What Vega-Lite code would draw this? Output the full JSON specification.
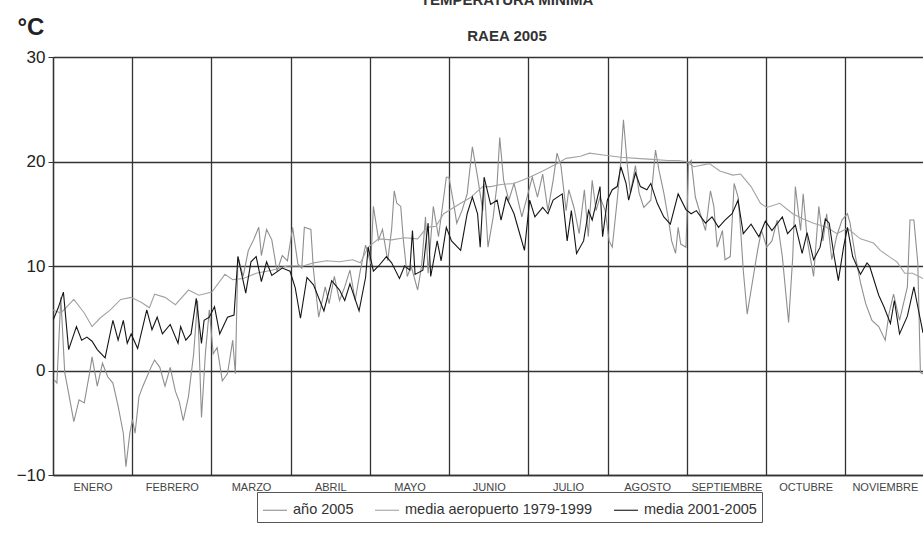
{
  "$schema": "https://vega.github.io/schema/vega-lite/v6.json",
  "width": 870,
  "height": 418,
  "autosize": {"type": "none"},
  "padding": {"left": 53, "top": 57, "right": 0, "bottom": 70},
  "background": "white",
  "config": {
    "view": {"stroke": null},
    "font": "Liberation Sans"
  },
  "title": {
    "text": ["TEMPERATURA MÍNIMA", "RAEA 2005"],
    "fontSize": 15,
    "font": "Liberation Sans",
    "fontWeight": "bold",
    "color": "#333333",
    "lineHeight": 36,
    "baseline": "bottom",
    "anchor": "middle",
    "dx": 19,
    "offset": -44
  },
  "datasets": {
    "y2005": [
      {"dia":0.5,"t":-0.9},{"dia":1.5,"t":-1.2},{"dia":3,"t":7.0},{"dia":4.5,"t":-0.2},{"dia":5.5,"t":-1.5},{"dia":8,"t":-4.9},{"dia":10,"t":-2.8},{"dia":12,"t":-3.1},{"dia":14,"t":-0.3},{"dia":15,"t":1.3},{"dia":17,"t":-1.5},{"dia":19,"t":0.7},{"dia":21,"t":-0.6},{"dia":23,"t":-1.2},{"dia":25,"t":-3.4},{"dia":27,"t":-6.0},{"dia":28,"t":-9.2},{"dia":29.5,"t":-6.0},{"dia":30.5,"t":-4.7},{"dia":31.5,"t":-6.0},{"dia":33,"t":-2.5},{"dia":34.5,"t":-1.5},{"dia":37.6,"t":0.3},{"dia":39,"t":1.0},{"dia":41,"t":0.3},{"dia":43,"t":-1.5},{"dia":45,"t":0.3},{"dia":47,"t":-2.0},{"dia":48.5,"t":-3.0},{"dia":50,"t":-4.8},{"dia":52,"t":-2.5},{"dia":54,"t":1.6},{"dia":55.5,"t":6.7},{"dia":57,"t":-4.5},{"dia":58.5,"t":1.6},{"dia":60,"t":5.8},{"dia":61.5,"t":1.6},{"dia":63,"t":2.2},{"dia":65,"t":-1.0},{"dia":67,"t":-0.3},{"dia":69,"t":2.9},{"dia":70,"t":-0.3},{"dia":71,"t":10.9},{"dia":73,"t":9.0},{"dia":75,"t":11.5},{"dia":77,"t":12.5},{"dia":79,"t":13.7},{"dia":80,"t":11.0},{"dia":82,"t":13.5},{"dia":84,"t":12.5},{"dia":86,"t":9.5},{"dia":88,"t":11.0},{"dia":90,"t":10.5},{"dia":92,"t":13.7},{"dia":94,"t":10.2},{"dia":95.5,"t":9.8},{"dia":96.5,"t":13.7},{"dia":99,"t":13.5},{"dia":100,"t":9.6},{"dia":102,"t":5.1},{"dia":104.5,"t":8.0},{"dia":106,"t":6.4},{"dia":108,"t":9.0},{"dia":110,"t":6.7},{"dia":112,"t":8.0},{"dia":114,"t":9.6},{"dia":116,"t":6.7},{"dia":118,"t":9.6},{"dia":120,"t":12.0},{"dia":122,"t":10.2},{"dia":123,"t":15.7},{"dia":125,"t":12.5},{"dia":126.5,"t":13.5},{"dia":128.5,"t":10.5},{"dia":130,"t":13.5},{"dia":131,"t":17.2},{"dia":132,"t":16.0},{"dia":133.5,"t":15.7},{"dia":134.5,"t":12.5},{"dia":136,"t":9.0},{"dia":137.5,"t":10.0},{"dia":140,"t":7.7},{"dia":141.5,"t":10.0},{"dia":143,"t":14.7},{"dia":144,"t":9.3},{"dia":146,"t":15.7},{"dia":148,"t":12.8},{"dia":151,"t":18.5},{"dia":152,"t":18.5},{"dia":154,"t":15.7},{"dia":155,"t":14.1},{"dia":157,"t":15.3},{"dia":159,"t":16.9},{"dia":161,"t":21.4},{"dia":163,"t":18.5},{"dia":165,"t":15.3},{"dia":165.5,"t":17.9},{"dia":167,"t":11.8},{"dia":169,"t":14.7},{"dia":170.5,"t":17.9},{"dia":171.5,"t":22.3},{"dia":173,"t":18.2},{"dia":175,"t":16.3},{"dia":177,"t":17.9},{"dia":180,"t":14.7},{"dia":182,"t":16.6},{"dia":184,"t":18.5},{"dia":186,"t":16.6},{"dia":188,"t":18.8},{"dia":190,"t":15.3},{"dia":192,"t":18.2},{"dia":193.5,"t":20.8},{"dia":195,"t":19.6},{"dia":197,"t":15.3},{"dia":198,"t":17.3},{"dia":200,"t":15.6},{"dia":202,"t":13.1},{"dia":204,"t":17.3},{"dia":205.5,"t":12.8},{"dia":207,"t":18.2},{"dia":208.5,"t":15.3},{"dia":210,"t":16.6},{"dia":212,"t":15.3},{"dia":213.5,"t":12.4},{"dia":214.7,"t":11.8},{"dia":216.6,"t":16.3},{"dia":218,"t":20.1},{"dia":219,"t":24.0},{"dia":220.5,"t":19.6},{"dia":221.7,"t":17.0},{"dia":223.6,"t":19.6},{"dia":225,"t":17.0},{"dia":226.8,"t":15.6},{"dia":229.5,"t":16.3},{"dia":231.3,"t":21.1},{"dia":232.7,"t":19.1},{"dia":234.5,"t":17.0},{"dia":236.3,"t":14.4},{"dia":237.5,"t":12.4},{"dia":239,"t":11.2},{"dia":240,"t":13.7},{"dia":241,"t":12.1},{"dia":243,"t":11.8},{"dia":244,"t":19.8},{"dia":245,"t":20.1},{"dia":246.6,"t":16.6},{"dia":248.5,"t":15.0},{"dia":250.5,"t":13.4},{"dia":252.4,"t":17.2},{"dia":253.7,"t":15.7},{"dia":255,"t":11.8},{"dia":257,"t":13.4},{"dia":258,"t":10.6},{"dia":260,"t":10.9},{"dia":261.5,"t":17.9},{"dia":263,"t":16.6},{"dia":264,"t":13.4},{"dia":265,"t":9.6},{"dia":266.5,"t":5.4},{"dia":268.4,"t":8.3},{"dia":270.5,"t":11.5},{"dia":272,"t":13.4},{"dia":274,"t":11.8},{"dia":276,"t":12.4},{"dia":278,"t":14.4},{"dia":280,"t":10.9},{"dia":282.4,"t":4.6},{"dia":284,"t":10.9},{"dia":285,"t":17.6},{"dia":287,"t":13.4},{"dia":288,"t":16.9},{"dia":289.6,"t":12.4},{"dia":292,"t":9.0},{"dia":294,"t":15.7},{"dia":295.6,"t":12.4},{"dia":297,"t":15.0},{"dia":299,"t":10.6},{"dia":300.8,"t":12.8},{"dia":302.9,"t":14.4},{"dia":305,"t":15.0},{"dia":306,"t":14.1},{"dia":308,"t":11.0},{"dia":310,"t":8.4},{"dia":312,"t":6.4},{"dia":314.4,"t":4.8},{"dia":317,"t":4.2},{"dia":319.5,"t":2.9},{"dia":321,"t":5.5},{"dia":322.7,"t":7.3},{"dia":325,"t":4.8},{"dia":328,"t":8.0},{"dia":329,"t":14.4},{"dia":330.5,"t":14.4},{"dia":332,"t":10.3},{"dia":333,"t":-0.2},{"dia":334,"t":-0.3}
    ],
    "aero": [
      {"dia":0,"t":5.8},{"dia":3,"t":5.5},{"dia":8,"t":6.8},{"dia":12,"t":5.5},{"dia":15,"t":4.2},{"dia":18,"t":5.0},{"dia":22,"t":5.8},{"dia":26,"t":6.8},{"dia":30,"t":7.0},{"dia":34,"t":6.5},{"dia":37,"t":6.0},{"dia":39,"t":7.3},{"dia":43,"t":7.0},{"dia":47,"t":6.3},{"dia":52,"t":7.7},{"dia":56,"t":7.2},{"dia":61,"t":7.5},{"dia":66,"t":9.2},{"dia":69,"t":8.7},{"dia":73,"t":8.8},{"dia":78,"t":9.3},{"dia":84,"t":9.6},{"dia":90,"t":10.0},{"dia":96,"t":10.0},{"dia":100,"t":10.3},{"dia":105,"t":10.5},{"dia":110,"t":10.4},{"dia":115,"t":10.6},{"dia":118,"t":10.3},{"dia":121,"t":11.8},{"dia":125,"t":12.6},{"dia":130,"t":12.5},{"dia":135,"t":12.7},{"dia":140,"t":12.6},{"dia":143.6,"t":13.7},{"dia":147,"t":13.8},{"dia":150,"t":15.0},{"dia":156.5,"t":16.0},{"dia":160,"t":16.5},{"dia":165,"t":17.6},{"dia":168,"t":17.6},{"dia":172,"t":17.8},{"dia":177,"t":17.9},{"dia":183,"t":18.5},{"dia":188,"t":19.1},{"dia":193.6,"t":19.8},{"dia":197,"t":20.3},{"dia":202.5,"t":20.5},{"dia":206,"t":20.8},{"dia":212,"t":20.6},{"dia":218,"t":20.4},{"dia":224,"t":20.3},{"dia":230,"t":20.2},{"dia":236,"t":20.1},{"dia":240,"t":20.1},{"dia":243,"t":20.0},{"dia":246,"t":19.5},{"dia":252,"t":19.8},{"dia":256,"t":19.1},{"dia":261,"t":18.7},{"dia":264,"t":18.8},{"dia":268,"t":17.6},{"dia":271.6,"t":16.0},{"dia":274,"t":15.6},{"dia":279,"t":16.0},{"dia":284,"t":15.0},{"dia":288,"t":14.5},{"dia":292,"t":14.1},{"dia":297,"t":13.7},{"dia":301,"t":13.1},{"dia":305,"t":13.6},{"dia":310,"t":12.6},{"dia":315,"t":12.2},{"dia":317.6,"t":11.5},{"dia":321,"t":10.9},{"dia":324,"t":10.4},{"dia":327,"t":9.3},{"dia":330,"t":9.3},{"dia":334,"t":8.8}
    ],
    "m0105": [
      {"dia":0,"t":4.8},{"dia":2,"t":6.0},{"dia":4,"t":7.5},{"dia":6,"t":2.0},{"dia":9,"t":4.2},{"dia":11,"t":2.9},{"dia":13,"t":3.2},{"dia":15,"t":2.8},{"dia":17,"t":2.0},{"dia":20,"t":1.2},{"dia":23,"t":4.8},{"dia":25,"t":2.9},{"dia":27,"t":4.8},{"dia":28.5,"t":2.6},{"dia":30,"t":3.5},{"dia":32.5,"t":2.1},{"dia":36,"t":5.8},{"dia":38,"t":3.9},{"dia":40,"t":5.1},{"dia":42,"t":3.5},{"dia":45,"t":4.4},{"dia":48,"t":2.6},{"dia":49,"t":4.2},{"dia":51,"t":2.9},{"dia":53,"t":3.5},{"dia":55,"t":6.9},{"dia":57,"t":2.6},{"dia":58,"t":4.8},{"dia":60,"t":5.1},{"dia":62,"t":6.1},{"dia":64,"t":3.5},{"dia":67,"t":5.1},{"dia":69.5,"t":5.3},{"dia":71,"t":10.9},{"dia":74,"t":7.4},{"dia":76,"t":10.4},{"dia":78,"t":10.9},{"dia":80,"t":8.5},{"dia":82,"t":10.4},{"dia":84,"t":9.1},{"dia":88,"t":9.8},{"dia":91,"t":9.5},{"dia":93,"t":7.9},{"dia":95,"t":5.0},{"dia":97.5,"t":8.9},{"dia":100,"t":8.2},{"dia":104,"t":5.7},{"dia":107,"t":8.6},{"dia":110,"t":7.7},{"dia":112,"t":6.7},{"dia":114,"t":8.3},{"dia":117.5,"t":5.7},{"dia":120,"t":8.9},{"dia":121,"t":11.8},{"dia":123,"t":9.5},{"dia":125,"t":10.0},{"dia":128,"t":10.9},{"dia":130,"t":10.3},{"dia":133,"t":8.8},{"dia":135,"t":10.0},{"dia":137,"t":9.6},{"dia":138,"t":13.4},{"dia":139,"t":9.2},{"dia":142,"t":9.6},{"dia":144,"t":14.1},{"dia":145,"t":9.0},{"dia":147.5,"t":12.4},{"dia":149,"t":10.5},{"dia":151,"t":13.7},{"dia":153,"t":12.4},{"dia":156.5,"t":11.5},{"dia":159,"t":15.0},{"dia":161,"t":16.6},{"dia":163,"t":15.0},{"dia":164,"t":11.8},{"dia":165.5,"t":18.5},{"dia":168,"t":15.9},{"dia":170.5,"t":16.3},{"dia":172,"t":14.4},{"dia":174,"t":16.6},{"dia":177,"t":15.0},{"dia":179.5,"t":12.8},{"dia":181,"t":11.5},{"dia":183,"t":16.3},{"dia":185,"t":14.7},{"dia":188,"t":15.6},{"dia":190,"t":15.0},{"dia":192,"t":16.3},{"dia":195.5,"t":16.9},{"dia":197.4,"t":12.4},{"dia":199,"t":15.3},{"dia":201,"t":11.2},{"dia":203.7,"t":12.4},{"dia":205.6,"t":15.3},{"dia":207,"t":14.4},{"dia":210,"t":17.6},{"dia":211,"t":12.8},{"dia":212.8,"t":16.3},{"dia":214.7,"t":17.3},{"dia":216.6,"t":17.6},{"dia":218,"t":19.5},{"dia":220,"t":17.9},{"dia":221,"t":16.3},{"dia":223.6,"t":18.9},{"dia":225.5,"t":17.6},{"dia":228,"t":17.3},{"dia":229.5,"t":17.9},{"dia":232,"t":16.0},{"dia":234.5,"t":14.7},{"dia":237,"t":14.0},{"dia":240,"t":16.9},{"dia":243,"t":15.4},{"dia":245,"t":15.0},{"dia":247,"t":15.3},{"dia":250.5,"t":14.1},{"dia":253,"t":14.7},{"dia":255.5,"t":13.7},{"dia":258,"t":14.4},{"dia":260.7,"t":15.0},{"dia":263,"t":16.3},{"dia":265,"t":13.1},{"dia":268,"t":14.0},{"dia":271,"t":12.8},{"dia":273.5,"t":14.3},{"dia":276,"t":13.4},{"dia":280,"t":14.7},{"dia":282,"t":13.1},{"dia":285,"t":13.9},{"dia":287.6,"t":11.2},{"dia":289.5,"t":13.2},{"dia":292,"t":10.6},{"dia":294.5,"t":11.8},{"dia":296.5,"t":14.5},{"dia":298,"t":14.1},{"dia":299.7,"t":11.2},{"dia":301.5,"t":8.6},{"dia":303.5,"t":11.8},{"dia":305,"t":13.7},{"dia":307,"t":10.9},{"dia":310,"t":9.2},{"dia":312.5,"t":10.3},{"dia":313.5,"t":10.0},{"dia":317,"t":7.2},{"dia":319,"t":6.1},{"dia":321.5,"t":4.5},{"dia":323,"t":6.7},{"dia":325,"t":3.5},{"dia":328,"t":5.2},{"dia":330.5,"t":8.0},{"dia":332,"t":6.1},{"dia":334,"t":3.6}
    ]
  },
  "encoding": {
    "x": {
      "field": "dia",
      "type": "quantitative",
      "scale": {"domain": [0, 334], "nice": false, "zero": false},
      "axis": {
        "title": null,
        "values": [0, 30.4167, 60.8333, 91.25, 121.6667, 152.0833, 182.5, 212.9167, 243.3333, 273.75, 304.1667],
        "labelExpr": "['ENERO','FEBRERO','MARZO','ABRIL','MAYO','JUNIO','JULIO','AGOSTO','SEPTIEMBRE','OCTUBRE','NOVIEMBRE','DICIEMBRE'][round(datum.value/30.4167)]",
        "labelOffset": 39.6,
        "labelOverlap": false,
        "labelFlush": false,
        "labelBound": false,
        "labelFontSize": 11,
        "labelColor": "#444444",
        "labelPadding": 6,
        "ticks": false,
        "grid": true,
        "gridColor": "#333333",
        "gridWidth": 1.3,
        "domainColor": "#333333",
        "domainWidth": 1.3
      }
    },
    "y": {
      "field": "t",
      "type": "quantitative",
      "scale": {"domain": [-10, 30], "nice": false, "zero": false},
      "axis": {
        "title": "°C",
        "titleAngle": 0,
        "titleAlign": "left",
        "titleBaseline": "alphabetic",
        "titleX": -36,
        "titleY": -23,
        "titleFontSize": 24,
        "titleFontWeight": "bold",
        "titleColor": "#222222",
        "values": [-10, 0, 10, 20, 30],
        "labelFontSize": 17,
        "labelColor": "#222222",
        "labelPadding": 3,
        "tickSize": 5,
        "tickColor": "#333333",
        "grid": true,
        "gridColor": "#333333",
        "gridWidth": 1.3,
        "domainColor": "#333333",
        "domainWidth": 1.3
      }
    }
  },
  "layer": [
    {
      "data": {"name": "y2005"},
      "mark": {"type": "line", "clip": true},
      "encoding": {
        "color": {"datum": "año 2005"},
        "strokeWidth": {"datum": "año 2005"}
      }
    },
    {
      "data": {"name": "aero"},
      "mark": {"type": "line", "clip": true},
      "encoding": {
        "color": {"datum": "media aeropuerto 1979-1999"},
        "strokeWidth": {"datum": "media aeropuerto 1979-1999"}
      }
    },
    {
      "data": {"name": "m0105"},
      "mark": {"type": "line", "clip": true},
      "encoding": {
        "color": {
          "datum": "media 2001-2005",
          "type": "nominal",
          "scale": {
            "domain": ["año 2005", "media aeropuerto 1979-1999", "media 2001-2005"],
            "range": ["#8f8f8f", "#a3a3a3", "#151515"]
          },
          "legend": {
            "title": null,
            "orient": "none",
            "legendX": 204,
            "legendY": 435,
            "direction": "horizontal",
            "symbolType": "stroke",
            "symbolSize": 576,
            "labelFontSize": 14.5,
            "labelLimit": 400,
            "labelColor": "#333333",
            "labelOffset": 5,
            "columnPadding": 18,
            "strokeColor": "#555555",
            "padding": 5
          }
        },
        "strokeWidth": {
          "datum": "media 2001-2005",
          "type": "ordinal",
          "scale": {
            "domain": ["año 2005", "media aeropuerto 1979-1999", "media 2001-2005"],
            "range": [1.1, 1.1, 2.5]
          },
          "legend": null
        }
      }
    }
  ]
}
